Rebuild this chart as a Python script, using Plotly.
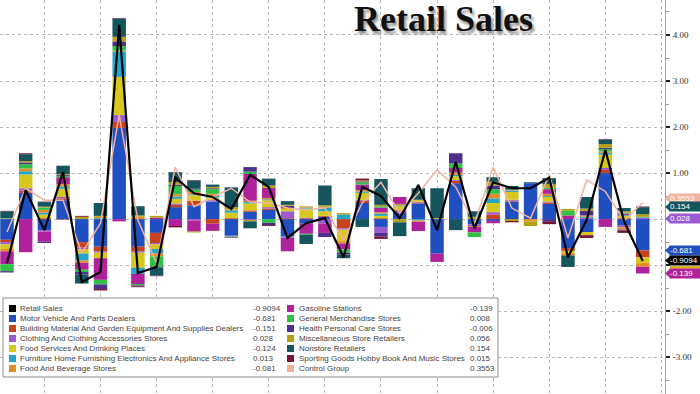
import plotly.graph_objects as go

periods = list(range(35))

motor = [-0.45, 0.57, -0.24, 0.41, -0.50, -0.60, 1.98, -0.60, -0.30, 0.26, 0.30, 0.38, -0.36, 0.16, 0.20, -0.38, -0.10, 0.05, 0.00, 0.35, -0.17, 0.15, 0.34, -0.75, 0.78, -0.12, -0.04, 0.38, 0.78, 0.33, -0.63, -0.28, 1.00, -0.13, -0.681]
building = [-0.05, 0.05, 0.02, 0.04, -0.12, -0.10, 0.13, -0.10, -0.22, 0.05, 0.10, -0.10, 0.02, 0.03, 0.03, 0.02, 0.02, 0.02, -0.20, 0.05, 0.02, 0.03, 0.02, 0.00, 0.05, 0.00, 0.10, 0.02, 0.00, 0.03, -0.06, 0.00, 0.07, 0.02, -0.151]
clothing = [-0.05, 0.05, -0.03, 0.03, -0.03, -0.03, 0.15, -0.03, -0.03, 0.03, -0.03, 0.03, -0.02, -0.02, 0.03, 0.15, 0.01, -0.10, -0.03, 0.02, -0.13, 0.02, 0.02, 0.00, 0.02, -0.03, 0.05, 0.02, 0.00, 0.02, 0.00, 0.03, 0.04, -0.05, 0.028]
foodserv = [-0.10, 0.30, 0.08, 0.18, -0.10, -0.12, 0.83, -0.33, -0.10, 0.10, 0.12, 0.06, 0.12, 0.15, 0.15, 0.05, 0.20, 0.10, -0.25, 0.15, 0.05, 0.08, 0.04, 0.02, 0.08, 0.00, 0.20, 0.17, 0.00, 0.10, -0.05, -0.07, 0.29, 0.05, -0.124]
furniture = [0.01, 0.07, 0.04, 0.05, -0.15, 0.02, 0.55, -0.13, -0.10, 0.05, 0.02, 0.04, 0.05, 0.03, 0.02, -0.02, 0.02, 0.08, 0.10, 0.03, 0.05, 0.02, -0.03, 0.00, 0.03, 0.00, 0.10, 0.03, 0.00, 0.02, 0.00, 0.02, 0.04, 0.02, 0.013]
foodbev = [-0.05, 0.06, 0.06, 0.05, -0.05, 0.03, 0.02, 0.05, -0.06, 0.05, 0.05, 0.04, 0.02, 0.03, 0.03, 0.02, 0.02, 0.02, -0.05, 0.03, 0.03, 0.03, -0.03, 0.00, 0.05, -0.02, 0.10, 0.02, -0.05, 0.05, -0.05, 0.03, 0.03, -0.05, -0.081]
gasoline = [-0.28, -0.72, -0.22, 0.15, -0.15, -0.47, -0.05, -0.22, 0.03, -0.15, -0.24, -0.15, 0.00, 0.58, 0.22, -0.30, -0.22, -0.20, -0.13, 0.12, 0.10, 0.15, -0.20, -0.18, 0.10, -0.12, -0.05, 0.00, 0.00, 0.10, 0.08, 0.00, -0.17, 0.03, -0.139]
general = [-0.15, 0.09, 0.05, 0.03, -0.05, -0.10, 0.10, -0.03, -0.22, 0.18, 0.05, 0.10, -0.02, 0.05, -0.08, 0.00, -0.02, 0.00, -0.07, 0.05, 0.03, 0.00, 0.00, 0.00, 0.10, -0.10, 0.10, 0.00, 0.00, 0.03, 0.10, 0.00, 0.05, 0.02, 0.008]
health = [-0.03, 0.04, -0.03, 0.02, -0.05, -0.10, 0.10, -0.02, -0.02, 0.03, 0.02, 0.02, -0.01, 0.10, -0.05, 0.05, 0.00, -0.09, -0.04, 0.02, -0.08, 0.00, 0.00, 0.00, 0.22, 0.00, 0.08, 0.00, 0.00, -0.06, 0.00, 0.10, 0.03, -0.02, -0.006]
misc = [0.01, 0.03, 0.02, 0.02, 0.05, 0.02, 0.10, 0.03, 0.04, 0.05, -0.02, 0.03, 0.05, -0.03, 0.05, 0.02, 0.01, 0.03, 0.03, 0.02, 0.03, -0.07, 0.00, 0.00, 0.00, 0.05, 0.08, -0.04, -0.10, 0.08, 0.04, 0.05, 0.08, 0.03, 0.056]
nonstore = [0.15, 0.15, 0.10, 0.18, -0.20, 0.28, 0.40, 0.20, -0.18, 0.22, 0.18, 0.05, 0.43, -0.15, 0.15, 0.08, -0.20, 0.43, -0.08, -0.17, 0.56, -0.30, 0.25, 0.65, -0.24, 0.12, 0.10, 0.08, 0.02, 0.13, -0.25, 0.25, 0.10, 0.07, 0.154]
sporting = [0.01, 0.02, 0.01, -0.01, 0.02, -0.03, 0.01, -0.02, -0.01, -0.03, 0.01, -0.01, 0.00, 0.00, -0.02, 0.00, 0.00, 0.00, 0.00, 0.04, -0.05, 0.00, 0.00, 0.00, 0.00, 0.00, 0.00, -0.03, 0.00, -0.05, 0.00, -0.06, 0.01, -0.05, 0.015]

retail = [-0.96, 0.63, -0.24, 1.02, -1.37, -1.15, 4.22, -1.17, -1.04, 0.90, 0.56, 0.48, 0.22, 0.96, 0.70, -0.41, -0.09, 0.02, -0.83, 0.70, 0.50, 0.02, 0.74, -0.24, 1.24, -0.20, 0.80, 0.67, 0.67, 0.90, -0.83, -0.02, 1.50, -0.05, -0.9094]
control = [-0.28, 0.67, 0.41, 0.41, -0.74, -0.09, 2.26, -0.02, -0.96, 1.13, 0.27, 0.48, 0.67, 0.37, 0.35, 0.24, 0.20, 0.24, -0.46, 0.35, 0.80, 0.13, 0.56, 1.07, 0.70, -0.10, 1.13, 0.24, 0.02, 0.96, -0.41, 0.85, 0.60, -0.03, 0.3553]

y_ticks = [4, 3, 2, 1, 0, -1, -2, -3]
y_tick_text = ["4.00", "3.00", "2.00", "1.00", "", "", "-2.00", "-3.00"]

component_names = [
    "Motor Vehicle And Parts Dealers",
    "Building Material And Garden Equipment And Supplies Dealers",
    "Clothing And Clothing Accessories Stores",
    "Food Services And Drinking Places",
    "Furniture Home Furnishing Electronics And Appliance Stores",
    "Food And Beverage Stores",
    "Gasoline Stations",
    "General Merchandise Stores",
    "Health Personal Care Stores",
    "Miscellaneous Store Retailers",
    "Nonstore Retailers",
    "Sporting Goods Hobby Book And Music Stores",
]
component_values = [motor, building, clothing, foodserv, furniture, foodbev,
                    gasoline, general, health, misc, nonstore, sporting]
component_colors = ["#1f4fc0", "#c8421e", "#9a5bd2", "#d6c81c", "#22a6c8", "#e58c2a",
                    "#b0229c", "#2fc144", "#4e2f8e", "#b2a012", "#14555e", "#7a1232"]

for arr in component_values + [retail, control]:
    assert len(arr) == len(periods), len(arr)

fig = go.Figure()
for name, vals, col in zip(component_names, component_values, component_colors):
    fig.add_trace(go.Bar(x=periods, y=vals, name=name, marker=dict(color=col, line=dict(width=0)),
                         width=0.72, showlegend=False))

fig.add_trace(go.Scatter(x=periods, y=control, mode="lines", line=dict(color="#f2b2a0", width=1.5),
                         showlegend=False))
fig.add_trace(go.Scatter(x=periods, y=retail, mode="lines", line=dict(color="#000000", width=2.2),
                         showlegend=False))

fig.update_layout(
    barmode="relative",
    width=700, height=394,
    margin=dict(l=0, r=35, t=0, b=0, pad=0),
    paper_bgcolor="white", plot_bgcolor="white",
    hovermode=False,
    xaxis=dict(range=[-0.374, 35.19], showticklabels=False, ticks="",
               showgrid=True, gridcolor="#b8b8b8", griddash="dot", gridwidth=1,
               tick0=2, dtick=3, zeroline=False, showline=False, automargin=False),
    yaxis=dict(range=[-3.80, 4.76], side="right", tickmode="array",
               tickvals=y_ticks, ticktext=y_tick_text,
               showgrid=True, gridcolor="#b8b8b8", griddash="dot", gridwidth=1,
               zeroline=False, showline=True, linecolor="#a0a0a0", linewidth=1,
               ticks="outside", ticklen=4, tickwidth=2, tickcolor="#222",
               ticklabelstandoff=1, automargin=False,
               tickfont=dict(family="Liberation Serif", size=9, color="#333"),
               minor=dict(dtick=0.5, tick0=0, ticks="outside", ticklen=3, tickcolor="#999", tickwidth=1,
                          showgrid=False)),
)

W, H = 665.0, 394.0
def px(x):
    return x / W
def py(y):
    return 1 - y / H

# Title
fig.add_annotation(text="<b>Retail Sales</b>", xref="paper", yref="paper", x=px(443), y=py(19),
                   xanchor="center", yanchor="middle", showarrow=False,
                   font=dict(family="Liberation Serif", size=36, color="#111",
                             shadow="2px 3px 3px #8a8a8a"))

# Legend box
fig.add_shape(type="rect", xref="paper", yref="paper", x0=px(3), x1=px(498), y0=py(298), y1=py(377),
              fillcolor="white", line=dict(color="#8c8c8c", width=1), layer="above")

legend_left = [("Retail Sales", "#000000", "%.4f" % retail[-1])] + \
    [(component_names[i], component_colors[i], "%.3f" % component_values[i][-1]) for i in range(6)]
legend_right = [(component_names[i], component_colors[i], "%.3f" % component_values[i][-1]) for i in range(6, 12)] + \
    [("Control Group", "#f2ad98", "%.4f" % control[-1])]

lfont = dict(family="Liberation Sans", size=8, color="#444")
for col_items, sx, tx, vx in [(legend_left, 9, 18, 251), (legend_right, 287, 297, 468)]:
    for k, (name, color, val) in enumerate(col_items):
        yc = 308.5 + 10 * k
        fig.add_shape(type="rect", xref="paper", yref="paper", x0=px(sx), x1=px(sx + 7),
                      y0=py(yc + 3.5), y1=py(yc - 3.5), fillcolor=color, line=dict(width=0), layer="above")
        fig.add_annotation(text=name, xref="paper", yref="paper", x=px(tx), y=py(yc), xanchor="left",
                           yanchor="middle", showarrow=False, font=lfont)
        fig.add_annotation(text=val, xref="paper", yref="paper", x=px(vx), y=py(yc), xanchor="left",
                           yanchor="middle", showarrow=False, font=lfont)

# Right-axis value tags (display positions in data units, pushed apart as in the source)
tags = [
    ("%.4f" % control[-1], "#f2b2a0", 0.45),
    ("%.3f" % nonstore[-1], "#14555e", 0.265),
    ("%.3f" % clothing[-1], "#9a5bd2", 0.01),
    ("%.3f" % motor[-1], "#1f4fc0", -0.68),
    ("%.4f" % retail[-1], "#000000", -0.90),
    ("%.3f" % gasoline[-1], "#b0229c", -1.18),
]
for text, color, ty in tags:
    fig.add_shape(type="path", xref="paper", yref="y",
                  path="M %f %f L %f %f L %f %f Z" % (px(665), ty, px(670), ty + 0.095, px(670), ty - 0.095),
                  fillcolor=color, line=dict(width=0), layer="above")
    fig.add_annotation(text=text, xref="paper", yref="y", x=px(669), y=ty, xanchor="left", yanchor="middle",
                       showarrow=False, bgcolor=color, width=31, height=8.5, align="left", borderpad=0,
                       font=dict(family="Liberation Sans", size=8, color="white"))
# food services tag, almost hidden between the retail and gasoline tags
fig.add_shape(type="rect", xref="paper", yref="y", x0=px(670), x1=px(700), y0=-1.02, y1=-1.08,
              fillcolor="#d6b01c", line=dict(width=0), layer="above")

fig.write_html("out.html", config={"displayModeBar": False, "staticPlot": True},
               post_script="document.body.style.margin='0';document.body.style.padding='0';")
